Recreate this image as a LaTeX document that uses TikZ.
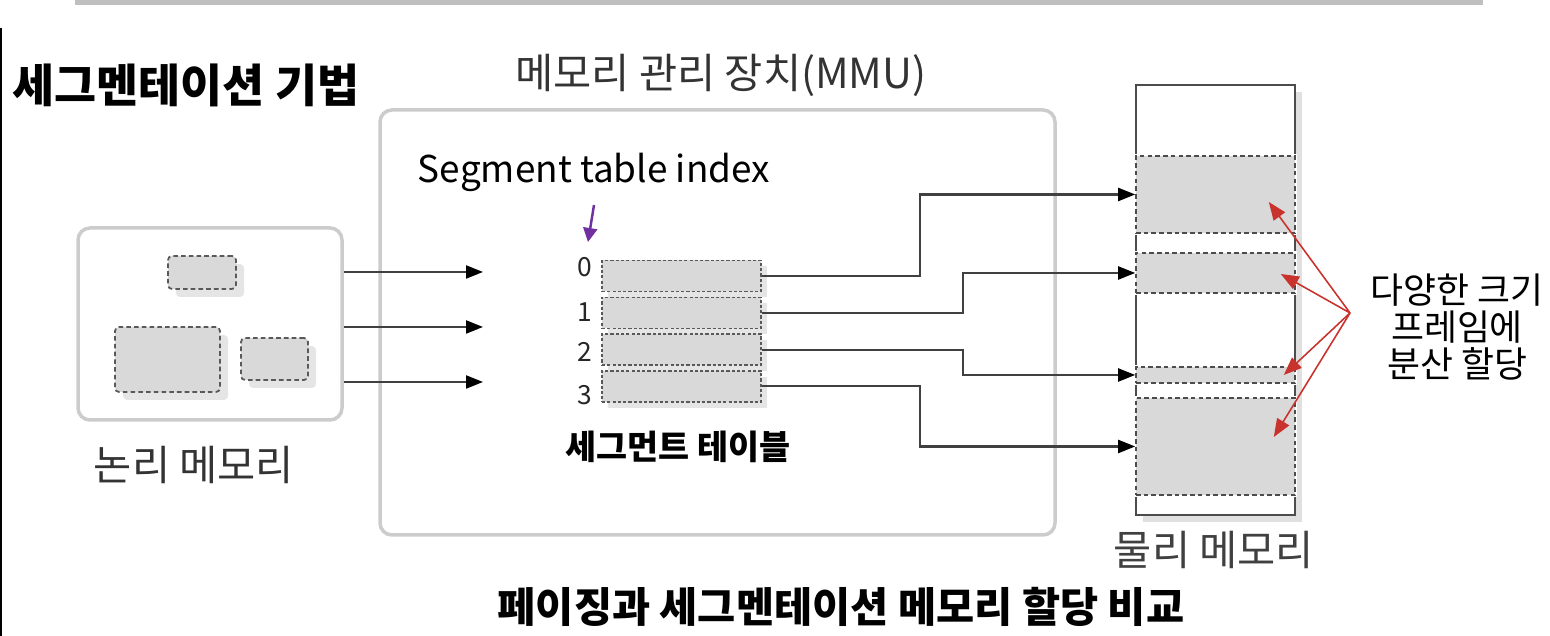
\documentclass[tikz,border=0pt]{standalone}
\usepackage{fontspec}
\setmainfont{Noto Sans CJK KR}
\usetikzlibrary{arrows.meta, shadows, calc}
\definecolor{hintred}{RGB}{200,52,45}
\definecolor{idxpurple}{RGB}{112,48,160}

\begin{document}
\begin{tikzpicture}[>={Triangle[length=0.17cm, width=0.13cm, black]},
    box/.style={draw=black!20, line width=0.035cm, rounded corners=0.12cm, inner sep=0},
    seg/.style={draw=black!65, fill=black!15, line width=0.5pt, dash pattern=on 1.3pt off 0.9pt,
        rounded corners=0.04cm, inner sep=0,
        drop shadow={shadow xshift=0.08cm, shadow yshift=-0.08cm, fill=black!10, opacity=1}},
    tablerow/.style={draw=black!65, fill=black!15, line width=0.4pt, dash pattern=on 0.9pt off 0.6pt,
        minimum width=1.59cm, minimum height=0.31cm, inner sep=0,
        drop shadow={shadow xshift=0.06cm, shadow yshift=-0.06cm, fill=black!10, opacity=1}},
    frame/.style={draw=black!70, fill=black!15, line width=0.45pt, dash pattern=on 1.3pt off 0.9pt,
        minimum width=1.59cm, inner sep=0, preaction={draw=white, line width=1.2pt, solid}},
    link/.style={->, draw=black!75, line width=0.6pt},
    hint/.style={-{Triangle[length=0.18cm, width=0.14cm]}, draw=hintred, line width=0.45pt}]
        \useasboundingbox (0,0) rectangle (15.5,6.36);

        % top rule and left edge
        \draw[black!25, line width=0.05cm] (0.75,6.33) -- (14.83,6.33);
        \draw[black, line width=0.02cm] (0.01,6.08) -- (0.01,0);

        % Title
        \node[anchor=west, inner sep=0, font=\bfseries\fontsize{13}{15}\selectfont] (title) at (0.12,5.51) {세그멘테이션 기법};

        % MMU
        \node[box, minimum width=6.75cm, minimum height=4.25cm] (mmu) at (7.175,3.135) {};
        \node[text=black!80, font=\fontsize{11.8}{13}\selectfont] (mmulabel) at (7.21,5.61) {메모리 관리 장치(MMU)};

        % Logical memory
        \node[box, minimum width=2.64cm, minimum height=1.92cm] (lm) at (2.10,3.12) {};
        \node[seg, minimum width=0.68cm, minimum height=0.33cm] (s0) at (2.02,3.635) {};
        \node[seg, minimum width=1.05cm, minimum height=0.65cm] (s1) at (1.675,2.765) {};
        \node[seg, minimum width=0.67cm, minimum height=0.42cm] (s2) at (2.745,2.77) {};
        \node[text=black!80, font=\fontsize{11.8}{13}\selectfont] (lmlabel) at (1.94,1.71) {논리 메모리};

        % Arrows into the MMU
        \foreach \i/\y in {0/3.64, 1/3.09, 2/2.54} {
            \coordinate (in\i) at (4.83,\y);
            \draw[link] (lm.east |- in\i) -- (in\i);
        }

        % Segment table
        \node[font=\fontsize{10.5}{12}\selectfont] (idx) at (5.94,4.64) {Segment table index};
        \coordinate (idxtail) at (5.94,4.31);
        \coordinate (idxtip) at (5.88,3.94);
        \draw[-{Triangle[length=0.14cm, width=0.14cm]}, idxpurple, line width=0.7pt] (idxtail) -- (idxtip);
        \foreach \i/\ly in {0/3.69, 1/3.24, 2/2.84, 3/2.41} {
            \node[tablerow] (row\i) at (6.815,{3.60-0.368*\i}) {};
            \node[anchor=east, inner sep=0, text=black!85, font=\fontsize{7.5}{9}\selectfont] (num\i) at (5.93,\ly) {\i};
        }
        \node[font=\bfseries\fontsize{9.6}{11}\selectfont] (stlabel) at (6.78,1.89) {세그먼트 테이블};

        % Physical memory
        \node[draw=black!70, fill=white, line width=0.55pt, minimum width=1.59cm, minimum height=4.30cm, inner sep=0,
            drop shadow={shadow xshift=0.07cm, shadow yshift=-0.07cm, fill=black!12, opacity=1}] (pm) at (12.155,3.36) {};
        \foreach \i/\y/\h in {0/4.415/0.77, 1/3.63/0.40, 2/2.61/0.16, 3/1.895/0.97}
            \node[frame, minimum height=\h cm] (f\i) at (12.155,\y) {};
        \node[text=black!75, font=\fontsize{11.8}{13}\selectfont] (pmlabel) at (12.14,0.86) {물리 메모리};

        % Table entries to frames
        \coordinate (colA) at (9.20,0);
        \coordinate (colB) at (9.63,0);
        \draw[link] (row0.east) -- (row0.east -| colA) |- (f0.west);
        \draw[link] (row1.east) -- (row1.east -| colB) |- (f1.west);
        \draw[link] (row2.east) -- (row2.east -| colB) |- (f2.west);
        \draw[link] (row3.east) -- (row3.east -| colA) |- (f3.west);

        % Frames of varied size
        \coordinate (hub) at (13.50,3.23);
        \draw[hint] (hub) -- ($(f0.east)+(-0.27,-0.075)$);
        \draw[hint] (hub) -- ($(f1.east)+(-0.15,-0.01)$);
        \draw[hint] (hub) -- ($(f2.east)+(-0.12,0)$);
        \draw[hint] (hub) -- ($(f3.east)+(-0.22,0.095)$);
        \node[align=center, font=\fontsize{10.2}{10.6}\selectfont] (note) at (14.57,3.09) {다양한 크기\\프레임에\\분산 할당};

        % Caption
        \node[font=\bfseries\fontsize{11.8}{13}\selectfont] (caption) at (8.41,0.29) {페이징과 세그멘테이션 메모리 할당 비교};
\end{tikzpicture}
\end{document}
